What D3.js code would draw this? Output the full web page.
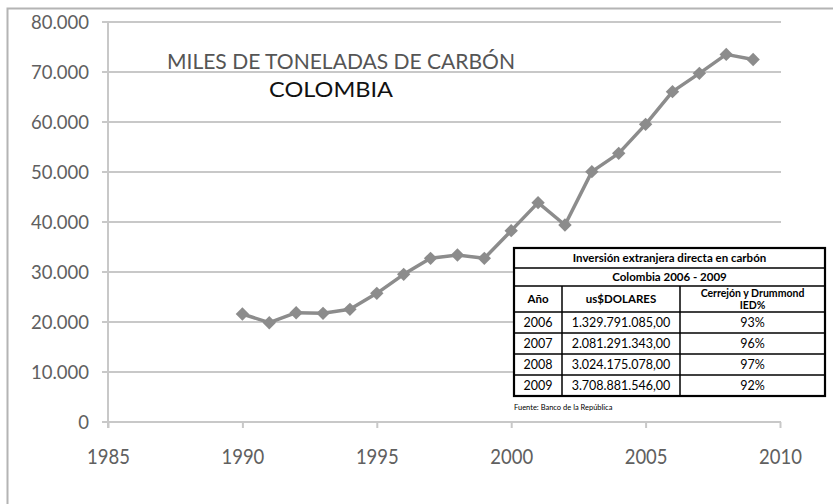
<!DOCTYPE html>
<html>
<head>
<meta charset="utf-8">
<script src="https://cdn.jsdelivr.net/npm/d3@7"></script>
<style>
  html, body { margin: 0; padding: 0; background: #fff; }
  svg { display: block; }
</style>
</head>
<body>
<svg id="chart" width="833" height="504"></svg>
<script>
// Coal production, thousands of tonnes
const years = [1990, 1991, 1992, 1993, 1994, 1995, 1996, 1997, 1998, 1999,
               2000, 2001, 2002, 2003, 2004, 2005, 2006, 2007, 2008, 2009];
const tons = [21600, 19860, 21860, 21730, 22530, 25730, 29530, 32730, 33400, 32730,
              38270, 43870, 39400, 50070, 53730, 59530, 66070, 69730, 73520, 72500];
const yTicks = [0, 10000, 20000, 30000, 40000, 50000, 60000, 70000, 80000];
const xTicks = [1985, 1990, 1995, 2000, 2005, 2010];

// Foreign direct investment table
const tableTitle = "Inversión extranjera  directa en carbón";
const tableSubtitle = "Colombia 2006 - 2009";
const tableHeaders = ["Año", "us$DOLARES", "Cerrejón y Drummond", "IED%"];
const fdiYears = ["2006", "2007", "2008", "2009"];
const fdiUsd = ["1.329.791.085,00", "2.081.291.343,00", "3.024.175.078,00", "3.708.881.546,00"];
const fdiShare = ["93%", "96%", "97%", "92%"];
const source = "Fuente: Banco de la República";

const svg = d3.select("#chart");
const font = "Lato, 'Open Sans', sans-serif";

const locale = d3.formatLocale({ decimal: ",", thousands: ".", grouping: [3], currency: ["$", ""] });
const fmt = locale.format(",");

const x = d3.scaleLinear().domain([1985, 2010]).range([108, 780]);
const y = d3.scaleLinear().domain([0, 80000]).range([422, 22]);

// outer frame
svg.append("path")
  .attr("d", "M7.5,506 V8.5 H840")
  .attr("fill", "none").attr("stroke", "#b4b4b4").attr("stroke-width", 2);

// horizontal gridlines
svg.append("g").selectAll("line").data(yTicks).join("line")
  .attr("x1", 102).attr("x2", 781)
  .attr("y1", d => y(d)).attr("y2", d => y(d))
  .attr("stroke", "#c8c8c8").attr("stroke-width", 2);

// y axis
const yAxis = svg.append("g").attr("transform", "translate(108,0)")
  .call(d3.axisLeft(y).tickValues(yTicks).tickFormat(d => d === 0 ? "0" : fmt(d)).tickSize(0).tickPadding(19));
yAxis.select(".domain").remove();
yAxis.append("line").attr("x1", 0).attr("x2", 0).attr("y1", y(80000)).attr("y2", 428)
  .attr("stroke", "#c8c8c8").attr("stroke-width", 2);
yAxis.selectAll("text")
  .attr("font-family", font).attr("font-size", 18.5).attr("fill", "#606060")
  .attr("dy", "0.34em");

// x axis
const xAxis = svg.append("g").attr("transform", `translate(0,${y(0)})`)
  .call(d3.axisBottom(x).tickValues(xTicks).tickFormat(d3.format("d")).tickSize(6).tickPadding(21));
xAxis.select(".domain").remove();
xAxis.selectAll(".tick line").attr("stroke", "#c8c8c8").attr("stroke-width", 2);
xAxis.selectAll("text")
  .attr("font-family", font).attr("font-size", 21).attr("fill", "#606060")
  .attr("transform", "scale(0.88,1)");

// titles
svg.append("text").attr("x", 167).attr("y", 69)
  .attr("font-family", font).attr("font-size", 21).attr("fill", "#555")
  .attr("textLength", 348).attr("lengthAdjust", "spacingAndGlyphs")
  .text("MILES DE TONELADAS DE CARBÓN");
svg.append("text").attr("x", 269).attr("y", 97)
  .attr("font-family", font).attr("font-size", 21.5).attr("fill", "#111")
  .attr("textLength", 124).attr("lengthAdjust", "spacingAndGlyphs")
  .text("COLOMBIA");

// series line and markers
const pts = years.map((yr, i) => [x(yr), y(tons[i])]);
svg.append("path")
  .attr("d", d3.line()(pts))
  .attr("fill", "none").attr("stroke", "#8c8c8c").attr("stroke-width", 3.5)
  .attr("stroke-linejoin", "round");
svg.append("g").selectAll("path").data(pts).join("path")
  .attr("d", d3.symbol(d3.symbolSquare, 90)())
  .attr("transform", d => `translate(${d[0]},${d[1]}) rotate(45)`)
  .attr("fill", "#8c8c8c");

// investment table
const tL = 514, tR = 825;
const c1 = 562, c2 = 680;
const rowsY = [248, 268, 286, 312, 333, 354, 375, 396];
const tbl = svg.append("g");
tbl.append("rect").attr("x", tL).attr("y", rowsY[0]).attr("width", tR - tL).attr("height", rowsY[7] - rowsY[0])
  .attr("fill", "#fff");
// inner rules
rowsY.slice(1, 7).forEach(ry => {
  tbl.append("line").attr("x1", tL).attr("x2", tR).attr("y1", ry).attr("y2", ry)
    .attr("stroke", "#000").attr("stroke-width", 1.5);
});
[c1, c2].forEach(cx => {
  tbl.append("line").attr("x1", cx).attr("x2", cx).attr("y1", rowsY[2]).attr("y2", rowsY[7])
    .attr("stroke", "#000").attr("stroke-width", 1.5);
});
tbl.append("rect").attr("x", tL).attr("y", rowsY[0]).attr("width", tR - tL).attr("height", rowsY[7] - rowsY[0])
  .attr("fill", "none").attr("stroke", "#000").attr("stroke-width", 2.2);

const mid = (a, b) => (a + b) / 2;
const tText = (tx, ty, s, size, weight) => tbl.append("text")
  .attr("x", tx).attr("y", ty).attr("text-anchor", "middle").attr("dy", "0.35em")
  .attr("font-family", font).attr("font-size", size).attr("font-weight", weight)
  .attr("fill", "#000").text(s);

tText(mid(tL, tR), mid(rowsY[0], rowsY[1]), tableTitle, 11.5, "bold");
tText(mid(tL, tR), mid(rowsY[1], rowsY[2]), tableSubtitle, 11.5, "bold");
tText(mid(tL, c1), mid(rowsY[2], rowsY[3]), tableHeaders[0], 11.5, "bold");
tText(mid(c1, c2), mid(rowsY[2], rowsY[3]), tableHeaders[1], 11.5, "bold");
// two-line header, kept with a little clearance between the lines
tText(mid(c2, tR), rowsY[2] + 7.5, tableHeaders[2], 10.5, "bold");
tText(mid(c2, tR), rowsY[2] + 19.5, tableHeaders[3], 10.5, "bold");
fdiYears.forEach((yr, i) => {
  const cy = mid(rowsY[3 + i], rowsY[4 + i]);
  tText(mid(tL, c1), cy, yr, 12.5, "normal");
  tText(mid(c1, c2), cy, fdiUsd[i], 12.5, "normal");
  tText(mid(c2, tR), cy, fdiShare[i], 12.5, "normal");
});
svg.append("text").attr("x", tL).attr("y", 410)
  .attr("font-family", font).attr("font-size", 7.5).attr("fill", "#000")
  .text(source);
</script>
</body>
</html>
